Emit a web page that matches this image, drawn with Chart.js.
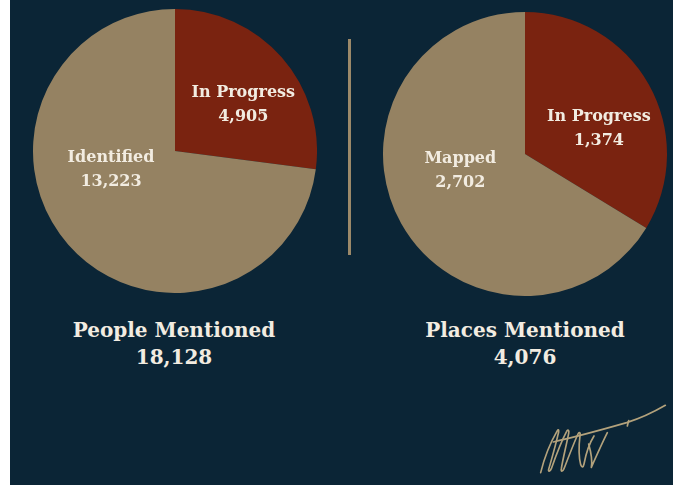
<!DOCTYPE html>
<html>
<head>
<meta charset="utf-8">
<script src="https://cdn.jsdelivr.net/npm/chart.js@4.4.1/dist/chart.umd.min.js"></script>
<style>
  html,body{margin:0;padding:0;}
  body{width:673px;height:485px;background:#0b2536;position:relative;overflow:hidden;font-family:"DejaVu Serif",serif;}
  .edge{position:absolute;left:0;top:0;width:10px;height:485px;background:#fff;}
  canvas{position:absolute;}
  .divider{position:absolute;left:348px;top:39px;width:3px;height:216px;background:#9c8969;}
  .title{position:absolute;width:300px;text-align:center;color:#f2ece1;font-size:20px;font-weight:bold;line-height:27px;}
  svg{position:absolute;}
</style>
</head>
<body>
<div class="edge"></div>
<canvas id="peopleChart" width="284" height="284" style="left:33px;top:9px"></canvas>
<canvas id="placesChart" width="284" height="284" style="left:383px;top:12px"></canvas>
<div class="divider"></div>
<div class="title" id="peopleTitle" style="left:24px;top:317px"></div>
<div class="title" id="placesTitle" style="left:375px;top:317px"></div>
<svg width="153" height="95" viewBox="0 0 459 285" style="left:520px;top:390px" fill="none" stroke="#b3a27c" stroke-width="5" stroke-linecap="round" stroke-linejoin="round">
  <path d="M62 248 C70 215 90 160 112 122 C116 116 118 122 114 134 C106 170 94 210 86 238 C84 246 90 246 94 236 C108 196 126 150 140 124 C144 116 148 122 146 130 C138 170 128 210 124 236 C122 246 128 246 132 236 C146 200 162 158 174 132 C178 124 182 128 180 136 C176 170 176 200 182 224 C186 234 190 232 192 222 C198 190 208 160 222 138"/>
  <path d="M100 156 C170 140 250 118 320 98 C365 84 405 64 436 46"/>
  <path d="M206 162 C214 190 218 210 214 232 C230 196 246 160 262 128"/>
  <path d="M326 92 L322 108"/>
</svg>
<script>
// data
const peopleLabels = ['In Progress', 'Identified'];
const peopleValues = [4905, 13223];
const placesLabels = ['In Progress', 'Mapped'];
const placesValues = [1374, 2702];
const chartTitles = ['People Mentioned', 'Places Mentioned'];

const RED = '#7a2310';
const TAN = '#958262';
const CREAM = '#f2ece1';

const fmt = n => n.toLocaleString('en-US');

// draws "label / value" inside each slice
const sliceText = {
  id: 'sliceText',
  afterDatasetsDraw(chart, args, opts){
    const ctx = chart.ctx;
    const meta = chart.getDatasetMeta(0);
    const ds = chart.data.datasets[0];
    ctx.save();
    ctx.fillStyle = CREAM;
    ctx.font = 'bold 16px "DejaVu Serif", serif';
    ctx.textAlign = 'center';
    ctx.textBaseline = 'middle';
    meta.data.forEach((arc, i) => {
      const p = arc.getProps(['x', 'y', 'outerRadius'], true);
      const [deg, f] = opts.pos[i];
      const a = (deg - 90) * Math.PI / 180;
      const cx = p.x + Math.cos(a) * p.outerRadius * f;
      const cy = p.y + Math.sin(a) * p.outerRadius * f;
      ctx.fillText(chart.data.labels[i], cx, cy - 12);
      ctx.fillText(fmt(ds.data[i]), cx, cy + 12);
    });
    ctx.restore();
  }
};

function createPie(id, labels, values, pos){
  return new Chart(document.getElementById(id), {
    type: 'pie',
    data: {labels, datasets: [{data: values, backgroundColor: [RED, TAN], borderWidth: 0}]},
    options: {
      responsive: false,
      animation: false,
      layout: {padding: 0},
      plugins: {legend: {display: false}, tooltip: {enabled: false}, sliceText: {pos}}
    },
    plugins: [sliceText]
  });
}

createPie('peopleChart', peopleLabels, peopleValues, [[56, 0.58], [253.5, 0.47]]);
createPie('placesChart', placesLabels, placesValues, [[71, 0.55], [255.8, 0.47]]);

const sum = a => a.reduce((s, v) => s + v, 0);
document.getElementById('peopleTitle').innerHTML = chartTitles[0] + '<br>' + fmt(sum(peopleValues));
document.getElementById('placesTitle').innerHTML = chartTitles[1] + '<br>' + fmt(sum(placesValues));
</script>
</body>
</html>
